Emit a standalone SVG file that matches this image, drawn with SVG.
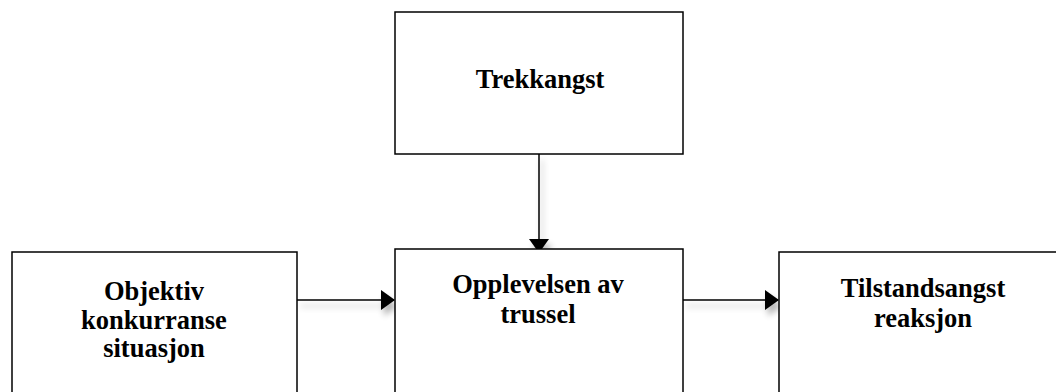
<svg xmlns="http://www.w3.org/2000/svg" width="1056" height="392" viewBox="0 0 1056 392">
  <style>
    .box { fill: #ffffff; stroke: #000000; stroke-width: 1.5; }
    .lbl { font-family: "Liberation Serif", "Times New Roman", serif; font-weight: bold; font-size: 26.5px; fill: #000000; text-anchor: middle; }
    .conn { stroke: #000000; stroke-width: 1.5; fill: none; marker-end: url(#arrow); }
  </style>
  <defs>
    <marker id="arrow" viewBox="0 0 14 20" refX="13" refY="10" markerWidth="14" markerHeight="20" markerUnits="userSpaceOnUse" orient="auto">
      <path d="M0,0 L14,10 L0,20 z" fill="#000000"/>
    </marker>
    <filter id="soft" x="-20%" y="-50%" width="140%" height="300%">
      <feGaussianBlur in="SourceAlpha" stdDeviation="3"/>
      <feOffset dx="3" dy="6" result="b"/>
      <feComponentTransfer><feFuncA type="linear" slope="0.3"/></feComponentTransfer>
      <feMerge><feMergeNode/><feMergeNode in="SourceGraphic"/></feMerge>
    </filter>
  </defs>
  <rect width="1056" height="392" fill="#ffffff"/>

  <g id="connectors" filter="url(#soft)">
    <line class="conn" x1="539" y1="154" x2="539" y2="252"/>
    <line class="conn" x1="297" y1="300" x2="394" y2="300"/>
    <line class="conn" x1="683" y1="300" x2="778" y2="300"/>
  </g>

  <g id="trekkangst">
    <rect class="box" x="395" y="12" width="288" height="142"/>
    <text class="lbl" x="540" y="88">Trekkangst</text>
  </g>

  <g id="objektiv">
    <rect class="box" x="12" y="252" width="285" height="150"/>
    <text class="lbl" x="154" y="300">Objektiv</text>
    <text class="lbl" x="154" y="329">konkurranse</text>
    <text class="lbl" x="154" y="357">situasjon</text>
  </g>

  <g id="opplevelsen">
    <rect class="box" x="395" y="249" width="288" height="153"/>
    <text class="lbl" x="538" y="293">Opplevelsen av</text>
    <text class="lbl" x="538" y="323">trussel</text>
  </g>

  <g id="tilstandsangst">
    <rect class="box" x="779" y="252" width="290" height="150"/>
    <text class="lbl" x="923" y="297">Tilstandsangst</text>
    <text class="lbl" x="923" y="327">reaksjon</text>
  </g>
</svg>
